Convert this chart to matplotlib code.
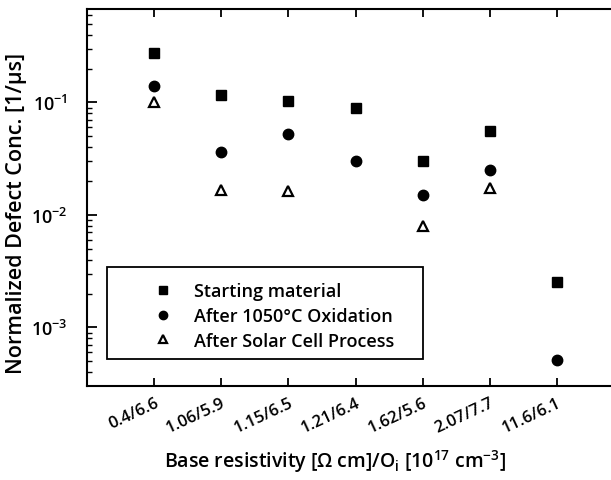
import matplotlib
matplotlib.use("Agg")
import matplotlib.pyplot as plt
from matplotlib.patches import Rectangle
from matplotlib.ticker import LogLocator, FuncFormatter, NullFormatter
from matplotlib.transforms import ScaledTranslation
import numpy as np

plt.rcParams['font.family'] = ['Open Sans', 'DejaVu Sans']
plt.rcParams['font.weight'] = 'semibold'
plt.rcParams['axes.labelweight'] = 'semibold'
plt.rcParams['mathtext.fontset'] = 'custom'
plt.rcParams['mathtext.rm'] = 'Open Sans:semibold'
plt.rcParams['mathtext.it'] = 'Open Sans:italic:semibold'
plt.rcParams['mathtext.bf'] = 'Open Sans:bold'

# samples: base resistivity [Ohm cm] / Oi [1e17 cm^-3]
samples = ["0.4/6.6", "1.06/5.9", "1.15/6.5", "1.21/6.4", "1.62/5.6", "2.07/7.7", "11.6/6.1"]

# normalized defect concentration [1/us], NaN = not measured
starting = [0.273, 0.116, 0.102, 0.0884, 0.0299, 0.0552, 0.00254]
oxidation = [0.141, 0.0366, 0.0523, 0.0299, 0.0151, 0.0252, 0.000514]
solar_cell = [0.100, 0.0165, 0.0164, np.nan, 0.0080, 0.0173, np.nan]

x = np.arange(len(samples))

fig = plt.figure(figsize=(6.11, 4.81), dpi=100)
ax = fig.add_axes([0.1429, 0.196, 0.878, 0.783])

ax.plot(x, starting, ls='none', marker='s', ms=7, color='black',
        label='Starting material')
ax.plot(x, oxidation, ls='none', marker='o', ms=7.5, color='black',
        label='After 1050°C Oxidation')
ax.plot(x, solar_cell, ls='none', marker='^', ms=7.5, mfc='white', mec='black',
        mew=1.6, label='After Solar Cell Process')

ax.set_yscale('log')
ax.set_xlim(-1, 7)
ax.set_ylim(3.03e-4, 0.675)

ax.set_xticks(x)
ax.set_xticklabels(samples, rotation=25, ha='right', rotation_mode='anchor', fontsize=12)
shift = ScaledTranslation(-11 / 100, -3 / 100, fig.dpi_scale_trans)
for lab in ax.get_xticklabels():
    lab.set_transform(lab.get_transform() + shift)
ax.yaxis.set_major_locator(LogLocator(base=10))
ax.yaxis.set_minor_locator(LogLocator(base=10, subs=np.arange(2, 10)))
ax.yaxis.set_major_formatter(FuncFormatter(lambda v, p: r'$10^{%d}$' % round(np.log10(v))))
ax.yaxis.set_minor_formatter(NullFormatter())

ax.tick_params(axis='x', which='major', direction='in', top=True, length=6, width=1.3,
               pad=6)
ax.tick_params(axis='y', which='major', direction='in', length=7, width=1.3,
               labelsize=13, pad=14)
ax.tick_params(axis='y', which='minor', direction='in', length=3.5, width=1.0)
ax.tick_params(axis='x', which='minor', bottom=False, top=False)
for s in ax.spines.values():
    s.set_linewidth(1.5)

ax.set_ylabel('Normalized Defect Conc. [1/µs]', fontsize=15.5)
ax.yaxis.set_label_coords(-0.112, 0.46)
ax.set_xlabel(r'Base resistivity [Ω cm]/O$_\mathrm{i}$ [10$^{17}$ cm$^{-3}$]', fontsize=14)
ax.xaxis.set_label_coords(0.462, -0.163)

leg = ax.legend(loc='upper left', bbox_to_anchor=(0.111, 0.294), frameon=False,
                fontsize=13, handletextpad=1.2, labelspacing=0.37,
                markerscale=0.8, borderaxespad=0, handlelength=1.0)
ax.add_patch(Rectangle((0.036, 0.071), 0.589, 0.244, transform=ax.transAxes,
                       fill=False, ec='black', lw=1.3, zorder=5))

fig.savefig('out.png', dpi=100)
